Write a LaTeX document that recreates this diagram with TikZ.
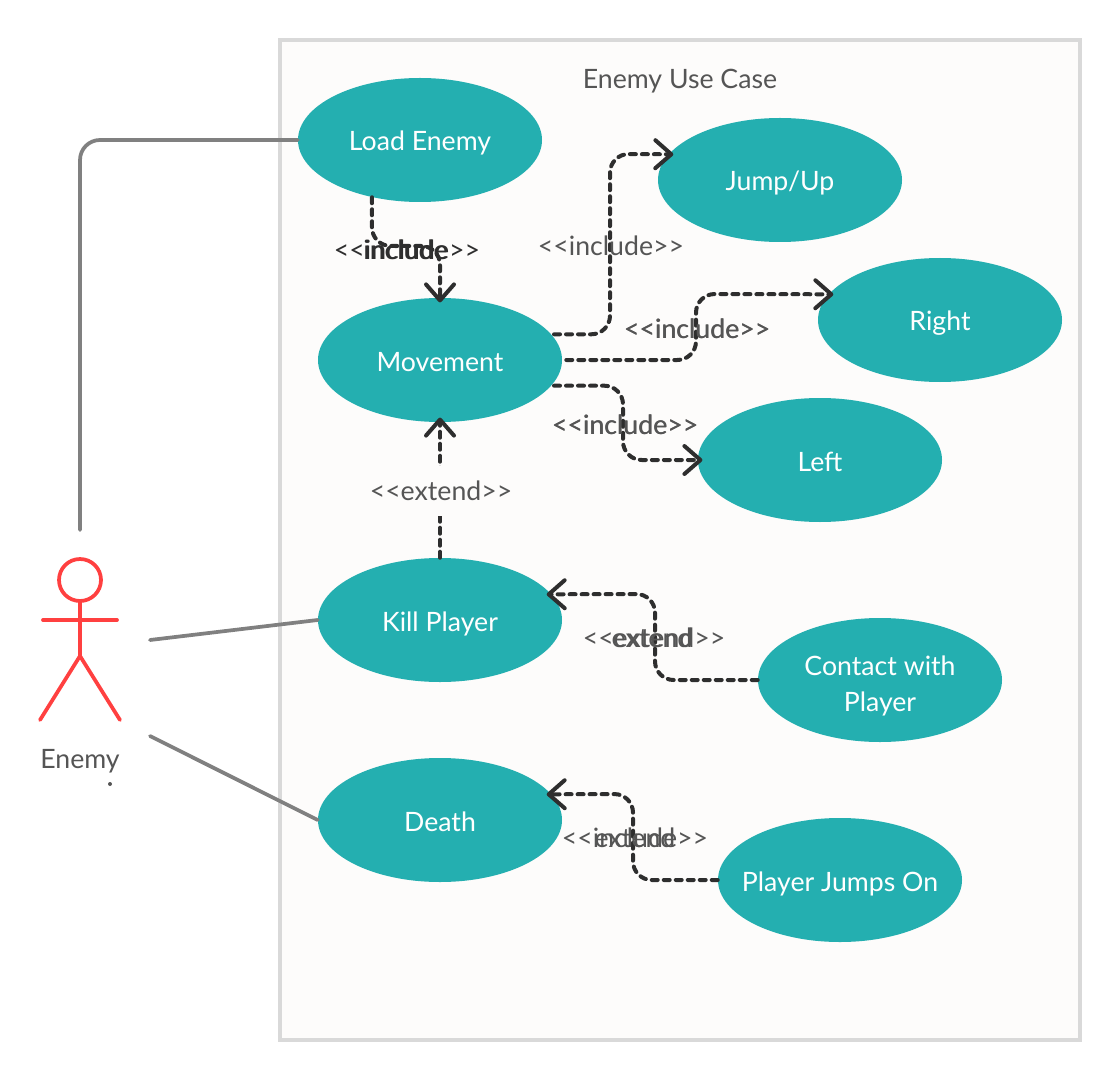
\documentclass[tikz,border=0pt]{standalone}
\usepackage{fontspec}
\setmainfont{Lato}
\usetikzlibrary{arrows.meta,shapes.geometric}
\definecolor{usecasefill}{HTML}{24AFB0}
\definecolor{actorred}{HTML}{FF4040}
\definecolor{assocgray}{HTML}{808080}
\definecolor{depdark}{HTML}{2E2E2E}
\definecolor{labelgray}{HTML}{555555}
\definecolor{boxline}{HTML}{D9D9D9}
\definecolor{boxfill}{HTML}{FDFCFB}
\newcommand{\incl}{<{}<include>{}>}
\newcommand{\extd}{<{}<extend>{}>}
\tikzset{
	usecase/.style={ellipse,fill=usecasefill,text=white,minimum width=183pt,minimum height=93pt,inner sep=0pt,align=center,font=\fontsize{20}{27}\selectfont,execute at begin node={\rule[-6.5pt]{0pt}{29.5pt}}},
	depline/.style={draw=depdark,line width=3pt,line cap=round,dash pattern=on 4.5pt off 4.5pt,rounded corners=14pt},
	deparrow/.style={depline,shorten >=-3.5pt,-{Straight Barb[length=12pt,width=21pt,round,line width=3pt]}},
	assoc/.style={draw=assocgray,line width=2.8pt,line cap=round},
	actorline/.style={draw=actorred,line width=2.8pt,line cap=round},
	deplabel/.style={text=labelgray,inner sep=0pt,font=\fontsize{20}{24}\selectfont}
}
\begin{document}
\begin{tikzpicture}[x=0.75pt,y=-0.75pt]
	\useasboundingbox (0,0) rectangle (1120,1080);

	% System boundary
	\draw[boxline,fill=boxfill,line width=3pt] (280,40) rectangle (1080,1040);
	\node[text=labelgray,font=\fontsize{20}{24}\selectfont] (title) at (680,81) {Enemy Use Case};

	% Use cases
	\node[usecase] (load) at (420,140) {Load Enemy};
	\node[usecase] (movement) at (440,360) {Movement};
	\node[usecase] (jump) at (780,180) {Jump/Up};
	\node[usecase] (right) at (940,320) {Right};
	\node[usecase] (left) at (820,460) {Left};
	\node[usecase] (kill) at (440,620) {Kill Player};
	\node[usecase] (contact) at (880,680) {\rule{0pt}{26.5pt}Contact with\\Player};
	\node[usecase] (death) at (440,820) {Death};
	\node[usecase] (jumpson) at (840,880) {\makebox[0pt]{Player Jumps On}};

	% Bend points
	\coordinate (loadbend) at (440,246);
	\coordinate (jumpbend) at (610,154);
	\coordinate (rightbend) at (696,294);
	\coordinate (leftbend) at (623,460);
	\coordinate (contactbend) at (655,594);
	\coordinate (jumpsonbend) at (633,794);

	% Dependencies
	\draw[deparrow] (load.230) |- (loadbend) -- (movement.north);
	\draw[deparrow,shorten <=2pt] (movement.13) -| (jumpbend) -- (jump.167);
	\draw[deparrow,shorten <=3pt] (movement.east) -| (rightbend) -- (right.167);
	\draw[deparrow,shorten <=2pt] (movement.-13) -| (leftbend) -- (left.west);
	\draw[deparrow] (kill.north) -- (movement.south);
	\draw[deparrow] (contact.west) -| (contactbend) -- (kill.13);
	\draw[deparrow] (jumpson.west) -| (jumpsonbend) -- (death.13);

	% Labels
	\node[deplabel,text=depdark] (loadlabel) at (407,250) {\incl};
	\node[deplabel,text=depdark] (loadlabeltwo) at (405.5,250) {include};
	\node[deplabel] (jumplabel) at (611,246) {\incl};
	\node[deplabel] (rightlabel) at (697,329) {\incl};
	\node[deplabel] (rightlabeltwo) at (697.5,329) {\incl};
	\node[deplabel] (leftlabel) at (625,425) {\incl};
	\node[deplabel] (leftlabeltwo) at (625.5,425) {\incl};
	\node[deplabel,fill=boxfill,minimum height=38pt] (killlabel) at (441,491) {\extd};
	\node[deplabel] (contactlabel) at (654,638) {\extd};
	\node[deplabel] (contactlabeltwo) at (652,638) {extend};
	\node[deplabel] (jumpsonlabel) at (635,838) {\incl};
	\node[deplabel] (jumpsonlabeltwo) at (635,838) {extend};

	% Actor
	\draw[actorline] (80,580) circle (21);
	\draw[actorline] (80,601) -- (80,656);
	\draw[actorline] (43,620) -- (117,620);
	\draw[actorline] (40,720) -- (80,656) -- (120,720);
	\node[text=labelgray,font=\fontsize{20}{24}\selectfont] (enemy) at (80,761) {Enemy};
	\fill[labelgray] (110,784) circle (2);

	% Associations
	\coordinate (loadend) at (80,530);
	\coordinate (killend) at (150,640);
	\coordinate (deathend) at (150,736);
	\draw[assoc,rounded corners=15pt] (load.west) -| (loadend);
	\draw[assoc] (kill.west) -- (killend);
	\draw[assoc] (death.west) -- (deathend);
\end{tikzpicture}
\end{document}
